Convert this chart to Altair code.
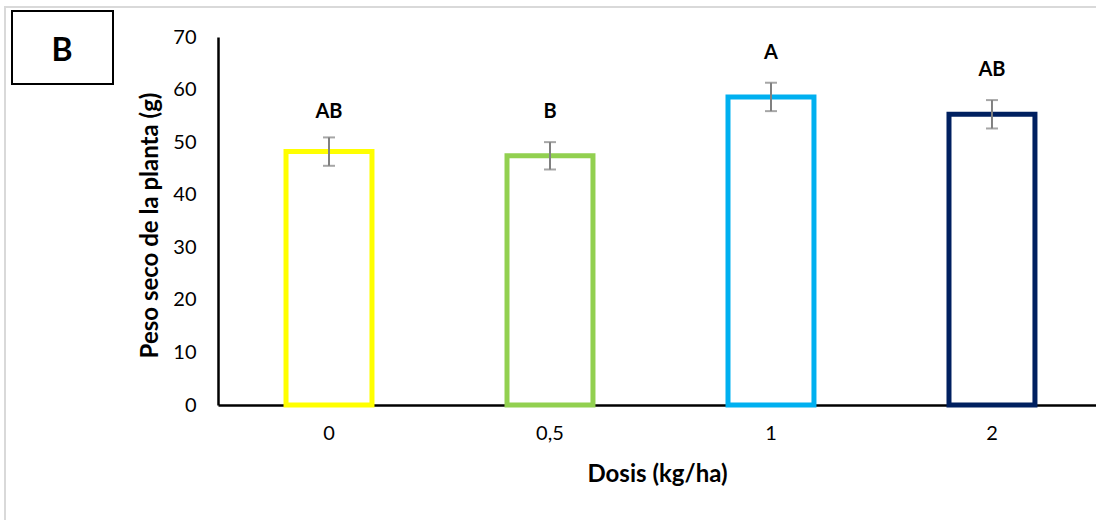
import altair as alt
import pandas as pd

categories = ["0", "0,5", "1", "2"]
values = [48.2, 47.4, 58.6, 55.3]
errors = [2.7, 2.6, 2.7, 2.7]
letters = ["AB", "B", "A", "AB"]
letter_pos = [55.8, 55.8, 67.0, 63.7]
colors = ["#FFFF00", "#92D050", "#00B0F0", "#002060"]
y_ticks = [0, 10, 20, 30, 40, 50, 60, 70]

df = pd.DataFrame({
    "dose": categories,
    "value": values,
    "lo": [v - e for v, e in zip(values, errors)],
    "hi": [v + e for v, e in zip(values, errors)],
    "letter": letters,
    "lpos": letter_pos,
})
one = pd.DataFrame({"k": [0]})

FONT = "Lato"

x_scale = alt.Scale(paddingInner=0.611, paddingOuter=0.292, align=0.527)

x_enc = alt.X(
    "dose:N", sort=categories, scale=x_scale,
    axis=alt.Axis(
        title="Dosis (kg/ha)", labelAngle=0, ticks=False,
        domainColor="black", domainWidth=2.5,
        labelFont=FONT, labelFontSize=20, labelColor="black", labelPadding=18,
        titleFont=FONT, titleFontSize=24, titleFontWeight="bold", titleColor="black",
        titleY=76, titleBaseline="alphabetic",
    ),
)
y_scale = alt.Scale(domain=[0, 70], nice=False)

bars = alt.Chart(df).mark_bar(fill="white", strokeWidth=5).encode(
    x=x_enc,
    y=alt.Y("value:Q", scale=y_scale, axis=alt.Axis(
        title="Peso seco de la planta (g)", values=y_ticks, grid=False, ticks=False,
        domainColor="black", domainWidth=2.5,
        labelFont=FONT, labelFontSize=20, labelColor="black", labelPadding=22,
        titleFont=FONT, titleFontSize=24, titleFontWeight="bold", titleColor="black",
        titleX=-61, titleY=188, titleBaseline="alphabetic",
    )),
    stroke=alt.Stroke("dose:N", sort=categories,
                      scale=alt.Scale(domain=categories, range=colors), legend=None),
)

err = alt.Chart(df).mark_rule(color="#808080", strokeWidth=2).encode(
    x=alt.X("dose:N", sort=categories, scale=x_scale),
    y=alt.Y("lo:Q", scale=y_scale),
    y2="hi:Q",
)
cap_lo = alt.Chart(df).mark_tick(color="#808080", thickness=2, size=12).encode(
    x=alt.X("dose:N", sort=categories, scale=x_scale), y=alt.Y("lo:Q", scale=y_scale))
cap_hi = alt.Chart(df).mark_tick(color="#808080", thickness=2, size=12).encode(
    x=alt.X("dose:N", sort=categories, scale=x_scale), y=alt.Y("hi:Q", scale=y_scale))

labels = alt.Chart(df).mark_text(font=FONT, fontSize=20, fontWeight="bold",
                                 color="black", baseline="middle").encode(
    x=alt.X("dose:N", sort=categories, scale=x_scale),
    y=alt.Y("lpos:Q", scale=y_scale),
    text="letter:N",
)

frame = alt.Chart(one).mark_rect(fill="transparent", stroke="#d9d9d9", strokeWidth=2).encode(
    x=alt.value(-213), x2=alt.value(900), y=alt.value(-30), y2=alt.value(600))
box = alt.Chart(one).mark_rect(fill="white", stroke="black", strokeWidth=2).encode(
    x=alt.value(-206), x2=alt.value(-105), y=alt.value(-26), y2=alt.value(47))
box_text = alt.Chart(one).mark_text(font=FONT, fontSize=32, fontWeight="bold",
                                    color="black", baseline="middle", align="center").encode(
    x=alt.value(-156), y=alt.value(14), text=alt.value("B"))

chart = alt.layer(frame, box, box_text, bars, err, cap_lo, cap_hi, labels).properties(
    width=878, height=368,
    autosize=alt.AutoSizeParams(type="none"),
    padding={"left": 218, "top": 37, "right": 0, "bottom": 115},
    background="white",
).configure_view(strokeWidth=0)

chart.save("out.html", embed_options={"renderer": "svg", "actions": False})
